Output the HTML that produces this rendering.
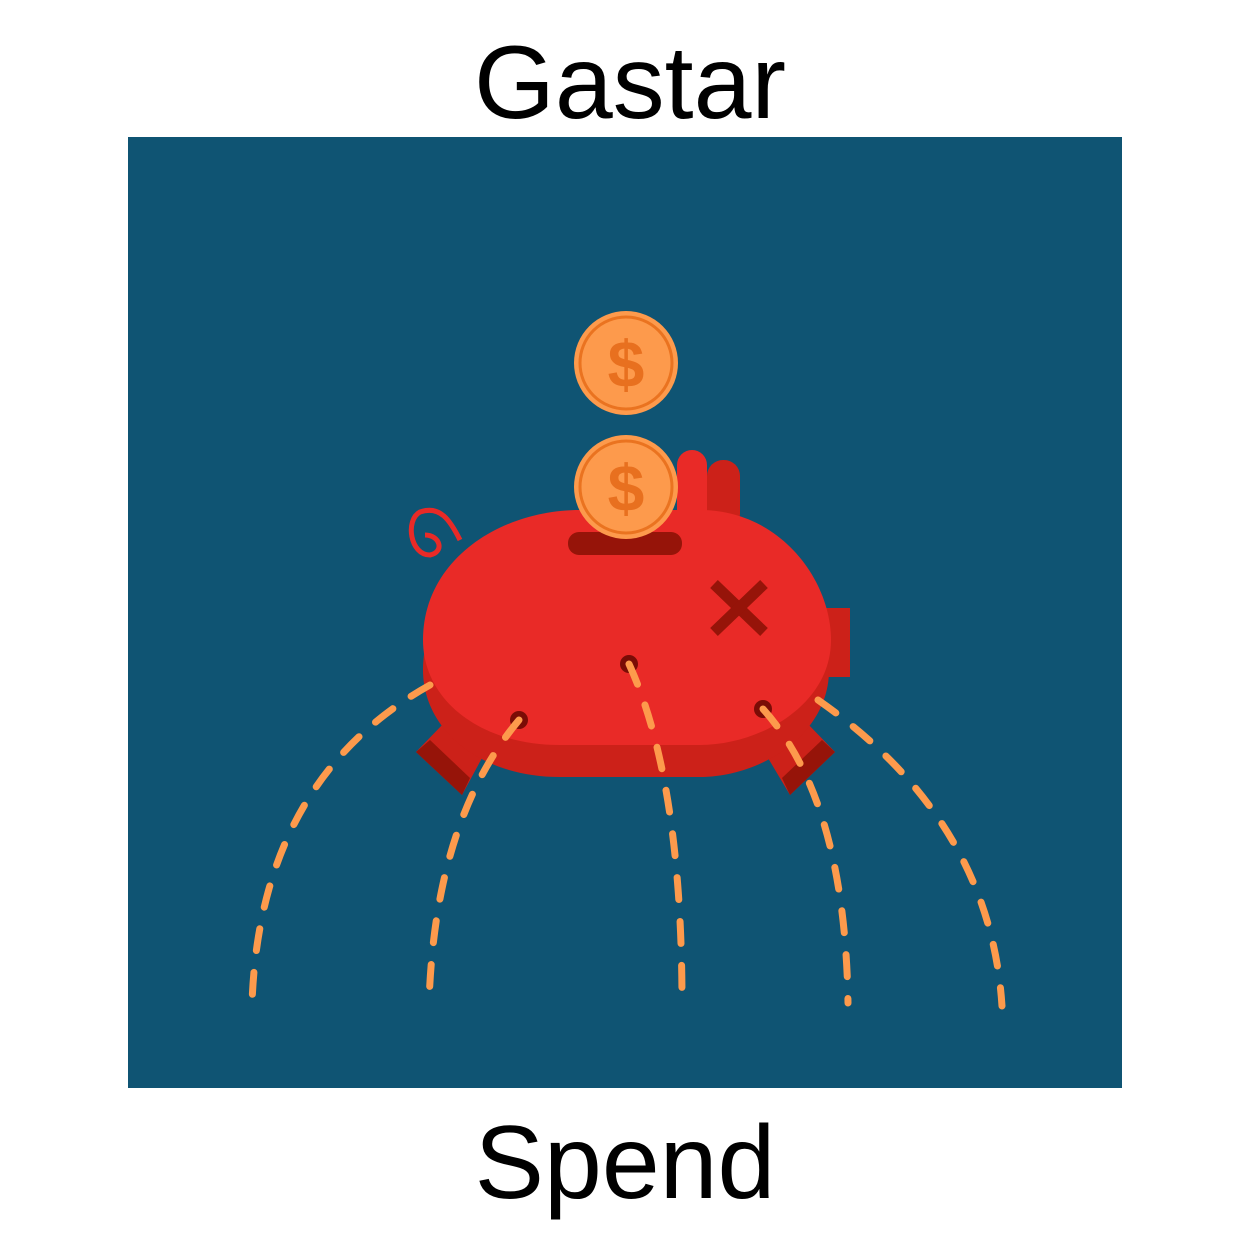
<!DOCTYPE html>
<html><head><meta charset="utf-8"><style>
html,body{margin:0;padding:0;background:#fff;width:1250px;height:1250px;overflow:hidden}
svg{display:block}
text{font-family:"Liberation Sans",sans-serif}
</style></head><body>
<svg width="1250" height="1250" viewBox="0 0 1250 1250">
<text x="630" y="118" font-size="104" text-anchor="middle" fill="#000">Gastar</text>
<rect x="128" y="137" width="994" height="951" fill="#0f5473"/>
<g>
<polygon points="416,752 445,722 482,758 462,795" fill="#cc2119"/>
<polygon points="416,752 430,740 470,778 462,795" fill="#961409"/>
<polygon points="835,752 806,722 768,758 790,795" fill="#cc2119"/>
<polygon points="835,752 822,740 782,778 790,795" fill="#961409"/>
</g>
<g>
<rect x="707" y="460" width="33" height="70" rx="16" fill="#cc2119"/>
<rect x="677" y="450" width="30" height="80" rx="15" fill="#e92a27"/>
</g>
<rect x="815" y="608" width="35" height="69" fill="#cc2119"/>
<path d="M460,540 C450,520 440,505 420,512 C405,520 410,555 430,555 C445,552 440,535 425,535" fill="none" stroke="#e92a27" stroke-width="5"/>
<path d="M423,670 C423,590 500,540 580,540 L700,540 C780,540 829,610 829,670 C829,735 760,777 700,777 L560,777 C480,777 423,730 423,670 Z" fill="#cc2119"/>
<path d="M423,640 C423,560 500,510 580,510 L700,510 C780,510 831,580 831,640 C831,705 760,745 700,745 L560,745 C480,745 423,700 423,640 Z" fill="#e92a27"/>
<rect x="568" y="532" width="114" height="23" rx="11" fill="#961409"/>
<g stroke="#961409" stroke-width="11">
<line x1="714" y1="584" x2="764" y2="632"/><line x1="764" y1="584" x2="714" y2="632"/>
</g>
<g fill="#7a0c06">
<circle cx="629" cy="664" r="9"/><circle cx="519" cy="720" r="9"/><circle cx="763" cy="709" r="9"/>
</g>
<g fill="none" stroke="#fd9a4c" stroke-width="7" stroke-linecap="round" stroke-dasharray="22 22">
<path d="M430,685 Q260,780 252,1003"/>
<path d="M519,720 Q435,820 429,1003"/>
<path d="M629,664 Q682,780 682,1003"/>
<path d="M763,709 Q845,800 848,1003"/>
<path d="M818,700 Q990,820 1002,1006"/>
</g>
<g>
<circle cx="626" cy="363" r="52" fill="#fd9a4c"/>
<circle cx="626" cy="363" r="46" fill="none" stroke="#ea7320" stroke-width="3"/>
<text x="626" y="387" font-size="66" font-weight="bold" text-anchor="middle" fill="#e8701f">$</text>
</g>
<g>
<circle cx="626" cy="487" r="52" fill="#fd9a4c"/>
<circle cx="626" cy="487" r="46" fill="none" stroke="#ea7320" stroke-width="3"/>
<text x="626" y="511" font-size="66" font-weight="bold" text-anchor="middle" fill="#e8701f">$</text>
</g>
<text x="625" y="1198" font-size="104" text-anchor="middle" fill="#000">Spend</text>
</svg>
</body></html>
